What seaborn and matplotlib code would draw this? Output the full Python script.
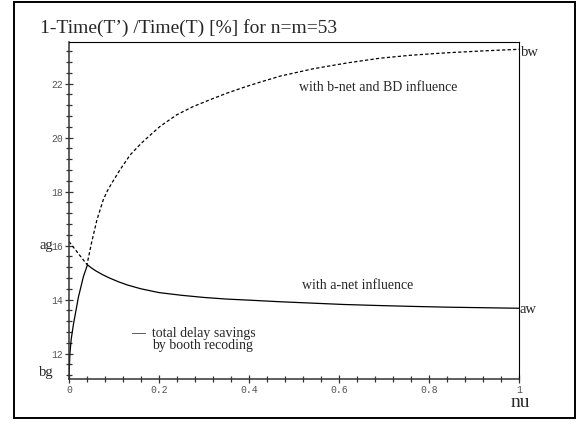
import matplotlib
matplotlib.use("Agg")
import matplotlib.pyplot as plt
from matplotlib.patches import Rectangle
from matplotlib.ticker import MultipleLocator
import seaborn as sns
import pandas as pd


# b-net and BD influence (dashed)
nu_b = [0, 0.02, 0.04, 0.05, 0.062, 0.069, 0.076, 0.085, 0.095, 0.113, 0.136, 0.16, 0.173,
        0.202, 0.239, 0.276, 0.313, 0.35, 0.39, 0.424, 0.47, 0.543, 0.62, 0.691, 0.76,
        0.839, 0.92, 1.0]
val_b = [16.15, 15.72, 15.3, 16.1, 16.95, 17.32, 17.69, 18.02, 18.31, 18.8, 19.36, 19.78,
         19.98, 20.41, 20.84, 21.15, 21.4, 21.64, 21.87, 22.05, 22.28, 22.55, 22.77, 22.94,
         23.05, 23.14, 23.21, 23.27]

# a-net influence (solid)
nu_a = [0, 0.002, 0.005, 0.01, 0.021, 0.032, 0.041, 0.05, 0.06, 0.075, 0.09, 0.11, 0.13,
        0.16, 0.2, 0.25, 0.3, 0.35, 0.4, 0.47, 0.54, 0.61, 0.69, 0.76, 0.84, 0.92, 1.0]
val_a = [11.1, 12.0, 12.55, 13.1, 14.1, 14.85, 15.29, 15.17, 15.06, 14.92, 14.8, 14.66, 14.54,
         14.4, 14.26, 14.16, 14.08, 14.02, 13.98, 13.92, 13.87, 13.82, 13.78, 13.75, 13.72,
         13.7, 13.68]

x_ticks = [0, 0.2, 0.4, 0.6, 0.8, 1]
x_tick_labels = ["0", "0.2", "0.4", "0.6", "0.8", "1"]
y_ticks = [12, 14, 16, 18, 20, 22]

W, H = 579, 424


def px(x, y):
    return x / W, 1 - y / H


def main():
    sns.set_style("white")
    plt.rcParams["font.family"] = ["Liberation Serif", "DejaVu Serif"]

    fig = plt.figure(figsize=(W / 100, H / 100), dpi=100)
    ax = fig.add_axes([69 / W, 1 - 379 / H, 450 / W, 337 / H])

    df_b = pd.DataFrame({"nu": nu_b, "val": val_b})
    df_a = pd.DataFrame({"nu": nu_a, "val": val_a})
    sns.lineplot(data=df_b, x="nu", y="val", ax=ax, sort=False, estimator=None,
                 color="black", linewidth=0.9, linestyle=(0, (2.6, 1.8)))
    sns.lineplot(data=df_a, x="nu", y="val", ax=ax, sort=False, estimator=None,
                 color="black", linewidth=0.9)

    ax.set_xlim(0, 1)
    ax.set_ylim(11.06, 23.54)
    ax.set_xticks(x_ticks)
    ax.set_xticklabels(x_tick_labels)
    ax.set_yticks(y_ticks)
    ax.set_yticklabels([str(v) for v in y_ticks])
    ax.xaxis.set_minor_locator(MultipleLocator(0.04))
    ax.yaxis.set_minor_locator(MultipleLocator(0.4))
    ax.tick_params(which="major", direction="inout", length=6, width=0.9,
                   color="#333333", labelsize=7, labelcolor="#555555", pad=1)
    ax.tick_params(which="minor", direction="inout", length=3.8, width=0.9, color="#333333")
    ax.tick_params(left=True, bottom=True, which="both")
    for lab in ax.get_xticklabels() + ax.get_yticklabels():
        lab.set_family(["Liberation Mono", "DejaVu Sans Mono"])
    ax.set_xlabel("")
    ax.set_ylabel("")
    for side in ["left", "bottom"]:
        ax.spines[side].set_linewidth(1.1)
        ax.spines[side].set_color("#333333")
    for side in ["top", "right"]:
        ax.spines[side].set_linewidth(0.8)
        ax.spines[side].set_color("black")

    fig.text(*px(40, 33), "1-Time(T\u2019) /Time(T) [%] for n=m=53", fontsize=14,
             va="baseline", ha="left")
    fig.text(*px(299, 91), "with b-net and BD influence", fontsize=10, va="baseline")
    fig.text(*px(302, 289), "with a-net influence", fontsize=10, va="baseline")
    fig.text(*px(131, 337), "\u2014  total delay savings", fontsize=10, va="baseline")
    fig.text(*px(152, 349.5), "by booth recoding", fontsize=10, va="baseline")
    fig.text(*px(39, 249), "ag", fontsize=10.5, va="baseline")
    fig.text(*px(39, 376), "bg", fontsize=10.5, va="baseline")
    fig.text(*px(520, 313), "aw", fontsize=10.5, va="baseline")
    fig.text(*px(521, 56), "bw", fontsize=10.5, va="baseline")
    fig.text(*px(511, 407), "nu", fontsize=14, va="baseline")

    fig.patches.append(Rectangle(px(13.5, 418), 561 / W, 416 / H, transform=fig.transFigure,
                                 fill=False, edgecolor="black", linewidth=1.4))

    fig.savefig("out.png", dpi=100)


if __name__ == "__main__":
    main()
